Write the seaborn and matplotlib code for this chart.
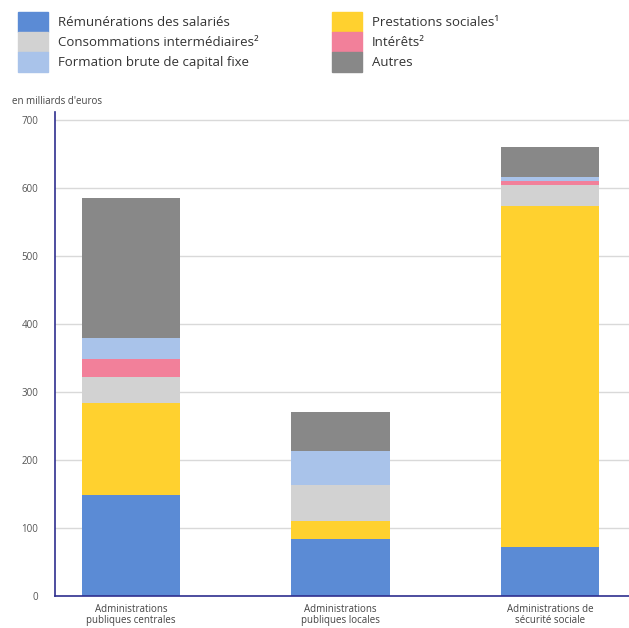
import matplotlib
matplotlib.use("Agg")
import matplotlib.pyplot as plt
import matplotlib.patches as mpatches
import seaborn as sns
import numpy as np

categories = ["Administrations\npubliques centrales", "Administrations\npubliques locales", "Administrations de\nsécurité sociale"]
series_names = ["Rémunérations des salariés", "Prestations sociales¹", "Consommations intermédiaires²",
                "Intérêts²", "Formation brute de capital fixe", "Autres"]
remunerations = [148, 84, 72]
prestations = [136, 26, 501]
consommations = [38, 53, 32]
interets = [27, 1, 5]
fbcf = [31, 50, 6]
autres = [206, 57, 45]
yticks = [0, 100, 200, 300, 400, 500, 600, 700]

colors = ["#5b8bd5", "#ffd12f", "#d2d2d2", "#f2809a", "#a9c3ea", "#888888"]
series = [remunerations, prestations, consommations, interets, fbcf, autres]

sns.set_theme(style="white")
plt.rcParams['font.family'] = ['Open Sans', 'DejaVu Sans']

fig = plt.figure(figsize=(6.29, 6.28), dpi=100)
ax = fig.add_axes([55/629, 32/628, (629-55)/629, (596-112)/628])

bottom = np.zeros(len(categories))
for name, vals, c in zip(series_names, series, colors):
    sns.barplot(x=categories, y=vals, bottom=bottom, color=c, ax=ax, width=0.47,
                saturation=1, linewidth=0, errorbar=None)
    bottom = bottom + np.array(vals)

ax.set_xlim(-0.364, 2.378)
ax.set_ylim(0, 712)
ax.set_yticks(yticks)
ax.set_yticklabels([str(t) for t in yticks])
ax.yaxis.grid(True, color="#d9d9d9", linewidth=1)
ax.set_axisbelow(True)
for s in ["top", "right"]:
    ax.spines[s].set_visible(False)
for s in ["left", "bottom"]:
    ax.spines[s].set_color("#2f2f8f")
    ax.spines[s].set_linewidth(1.2)
ax.tick_params(axis="y", labelsize=7, colors="#555555", length=0, pad=12)
ax.tick_params(axis="x", labelsize=7, colors="#444444", length=0, pad=6)
for lab in ax.get_xticklabels():
    lab.set_linespacing(1.0)

fig.text(12/629, 1 - 102/628, "en milliards d'euros", fontsize=7, color="#444444", va="center")

def make_legend(idxs, x):
    handles = [mpatches.Patch(color=colors[i], label=series_names[i]) for i in idxs]
    leg = fig.legend(handles=handles, loc="upper left", bbox_to_anchor=(x, 1 - 12/628),
                     frameon=False, fontsize=9.5, handlelength=2.3, handleheight=1.9,
                     labelspacing=0.05, handletextpad=0.75, borderaxespad=0, borderpad=0)
    for t in leg.get_texts():
        t.set_color("#333333")
    return leg

make_legend([0, 2, 4], 18/629)
make_legend([1, 3, 5], 332/629)

fig.savefig("out.png", dpi=100)
